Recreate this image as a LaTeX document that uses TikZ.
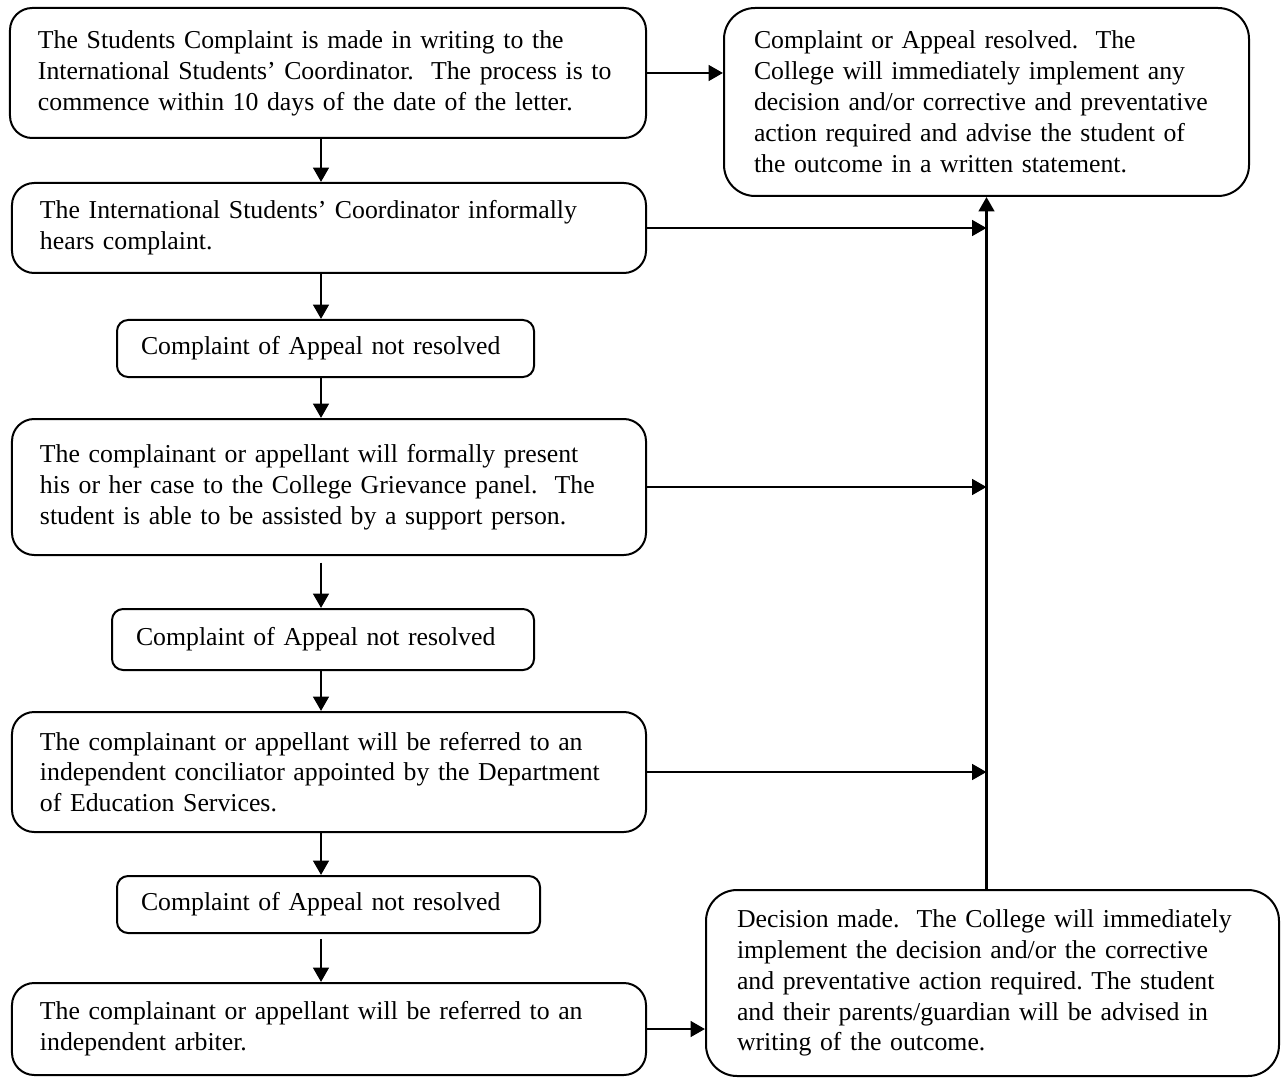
\documentclass[tikz,border=0pt]{standalone}
\usepackage{fontspec}
\setmainfont{Liberation Serif}
\usetikzlibrary{arrows.meta}
\frenchspacing
\begin{document}
\begin{tikzpicture}[x=0.45pt, y=-0.45pt,
  box/.style={draw, line width=0.9pt, align=left, inner ysep=0pt,
    font=\fontsize{11.6pt}{13.9pt}\selectfont},
  bigbox/.style={box, rounded corners=10pt, inner xsep=12.6pt, text width=260.1pt},
  smallbox/.style={box, rounded corners=5pt, inner xsep=10.8pt},
  arr/.style={line width=1.3pt, -{Triangle[length=6.5pt,width=7pt]}}]
\useasboundingbox (0,0) rectangle (1286,1079);

% left column
\node[bigbox, text width=261pt, minimum height=58.5pt] (A) at (328,73)
  {\mbox{The Students Complaint is made in writing to the}\\
   \mbox{International Students' Coordinator.~ The process is to}\\
   \mbox{commence within 10 days of the date of the letter.}};
\node[bigbox, minimum height=40.5pt] (B) at (329,228)
  {\mbox{The International Students' Coordinator informally}\\
   \mbox{hears complaint.}};
\node[smallbox, text width=166.05pt, minimum height=25.65pt] (C) at (325.5,348.5)
  {\mbox{Complaint of Appeal not resolved}};
\node[bigbox, minimum height=61.2pt] (D) at (329,487)
  {\mbox{The complainant or appellant will formally present}\\
   \mbox{his or her case to the College Grievance panel.~ The}\\
   \mbox{student is able to be assisted by a support person.}};
\node[smallbox, text width=168.3pt, minimum height=27.45pt] (E) at (323,639.5)
  {\mbox{Complaint of Appeal not resolved}};
\node[bigbox, minimum height=54pt] (F) at (329,772)
  {\mbox{The complainant or appellant will be referred to an}\\
   \mbox{independent conciliator appointed by the Department}\\
   \mbox{of Education Services.}};
\node[smallbox, text width=168.75pt, minimum height=25.65pt] (G) at (328.5,904.5)
  {\mbox{Complaint of Appeal not resolved}};
\node[bigbox, minimum height=41.4pt] (H) at (329,1029)
  {\mbox{The complainant or appellant will be referred to an}\\
   \mbox{independent arbiter.}};

% right column
\node[box, rounded corners=14pt, inner xsep=13.5pt, text width=209.25pt, minimum height=84.6pt] (R) at (986.5,102)
  {\mbox{Complaint or Appeal resolved.~ The}\\
   \mbox{College will immediately implement any}\\
   \mbox{decision and/or corrective and preventative}\\
   \mbox{action required and advise the student of}\\
   \mbox{the outcome in a written statement.}};
\node[box, rounded corners=14pt, inner xsep=13.95pt, text width=229.95pt, minimum height=83.7pt] (I) at (992.5,983)
  {\mbox{Decision made.~ The College will immediately}\\
   \mbox{implement the decision and/or the corrective}\\
   \mbox{and preventative action required. The student}\\
   \mbox{and their parents/guardian will be advised in}\\
   \mbox{writing of the outcome.}};

% vertical flow
\coordinate (colx) at (321,0);
\draw[arr] (colx |- A.south) -- (colx |- B.north);
\draw[arr] (colx |- B.south) -- (colx |- C.north);
\draw[arr] (colx |- C.south) -- (colx |- D.north);
\draw[arr, shorten <=3pt] (colx |- D.south) -- (colx |- E.north);
\draw[arr] (colx |- E.south) -- (colx |- F.north);
\draw[arr] (colx |- F.south) -- (colx |- G.north);
\draw[arr, shorten <=2.2pt] (colx |- G.south) -- (colx |- H.north);

% horizontal flow
\draw[arr] (A.east) -- (A.east -| R.west);
\draw[arr] (B.east) -- (B.east -| R.south);
\draw[arr] (D.east) -- (D.east -| R.south);
\draw[arr] (F.east) -- (F.east -| R.south);
\draw[arr] (H.east) -- (H.east -| I.west);
\draw[arr] (I.north -| R.south) -- (R.south);
\end{tikzpicture}
\end{document}
